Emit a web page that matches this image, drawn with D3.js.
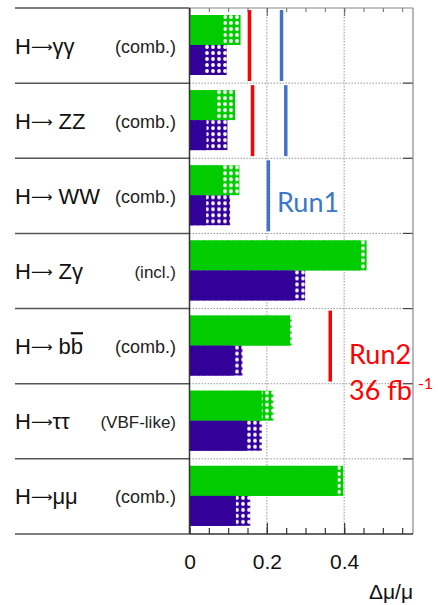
<!DOCTYPE html>
<meta charset="utf-8">
<style>
body { margin: 0; background: #fff; }
svg { display: block; }
</style>
<svg width="438" height="605"></svg>
<script src="https://d3js.org/d3.v7.min.js"></script>
<script>
// channels, top to bottom (decay products after "H→")
var channels = ["gg", "zz", "ww", "zg", "bb", "tt", "mm"]
var products = ["\u03b3\u03b3", " ZZ", " WW", " Z\u03b3", " bb", "\u03c4\u03c4", "\u03bc\u03bc"]
var notes = ["(comb.)", "(comb.)", "(comb.)", "(incl.)", "(comb.)", "(VBF-like)", "(comb.)"]

// green = upper bar, purple = lower bar; solid part and full (dotted) extent
var greenSolid  = [0.088, 0.070, 0.083, 0.441, 0.260, 0.187, 0.383]
var greenTotal  = [0.132, 0.118, 0.129, 0.458, 0.264, 0.217, 0.398]
var purpleSolid = [0.036, 0.044, 0.043, 0.269, 0.113, 0.148, 0.120]
var purpleTotal = [0.096, 0.098, 0.105, 0.299, 0.137, 0.187, 0.157]

// reference lines: Run2 36 fb-1 (red) and Run1 (blue), null = none
var run2 = [0.155, 0.163, null, null, 0.364, null, null]
var run1 = [0.238, 0.249, 0.204, null, null, null, null]

var majorTicks = [0, 0.2, 0.4]
var minorTicks = d3.range(0, 0.58, 0.05)

var FONT = "Liberation Sans, Arial, Helvetica, DejaVu Sans, sans-serif"
var svg = d3.select("svg")
var x = d3.scaleLinear().domain([0, 0.578]).range([189.5, 413])
var y = d3.scaleBand().domain(channels).range([8, 534])
var sub = d3.scaleBand().domain(["green", "purple"]).range([7, 67])

var colours = { green: "#00cc00", purple: "#330099" }

// dotted patterns for the extension part of bars
var defs = svg.append("defs")
Object.keys(colours).forEach(function (k) {
  var p = defs.append("pattern")
    .attr("id", "dots-" + k)
    .attr("patternUnits", "userSpaceOnUse")
    .attr("width", 6).attr("height", 6)
  p.append("rect").attr("width", 6).attr("height", 6).attr("fill", colours[k])
  p.append("circle").attr("cx", 3).attr("cy", 3).attr("r", 1.9).attr("fill", "#fff")
})

var rows = channels.map(function (c, i) {
  return { id: c, prod: products[i], note: notes[i],
    bars: [
      { k: "green", solid: greenSolid[i], total: greenTotal[i] },
      { k: "purple", solid: purpleSolid[i], total: purpleTotal[i] }
    ],
    run2: run2[i], run1: run1[i] }
})

// grid
var grid = svg.append("g")
grid.selectAll("line.v").data([0.2, 0.4]).enter().append("line")
  .attr("x1", d => x(d)).attr("x2", d => x(d))
  .attr("y1", 8).attr("y2", 534)
  .attr("stroke", "#999").attr("stroke-width", 1).attr("stroke-dasharray", "1.5,1.5")
var bounds = channels.slice(1).map(c => y(c))
grid.selectAll("line.h").data(bounds).enter().append("line")
  .attr("x1", x(0)).attr("x2", 413)
  .attr("y1", d => d).attr("y2", d => d)
  .attr("stroke", "#999").attr("stroke-width", 1).attr("stroke-dasharray", "1.5,1.5")

// bars
var rowG = svg.append("g").selectAll("g").data(rows).enter().append("g")
  .attr("transform", d => "translate(0," + y(d.id) + ")")

rowG.selectAll("rect.tot").data(d => d.bars).enter().append("rect")
  .attr("x", x(0)).attr("y", d => sub(d.k))
  .attr("width", d => x(d.total) - x(0)).attr("height", sub.bandwidth())
  .attr("fill", d => "url(#dots-" + d.k + ")")
rowG.selectAll("rect.sol").data(d => d.bars).enter().append("rect")
  .attr("x", x(0)).attr("y", d => sub(d.k))
  .attr("width", d => x(d.solid) - x(0)).attr("height", sub.bandwidth())
  .attr("fill", d => colours[d.k])

rowG.filter(d => d.run2 != null).append("line")
  .attr("x1", d => x(d.run2)).attr("x2", d => x(d.run2))
  .attr("y1", 2).attr("y2", 73)
  .attr("stroke", "#ff0000").attr("stroke-width", 3.5)
rowG.filter(d => d.run1 != null).append("line")
  .attr("x1", d => x(d.run1)).attr("x2", d => x(d.run1))
  .attr("y1", 2).attr("y2", 73)
  .attr("stroke", "#4472c4").attr("stroke-width", 3.5)

// label panel
var labG = svg.append("g")
labG.selectAll("line").data(y.domain().map(c => y(c)).concat([534])).enter().append("line")
  .attr("x1", 15).attr("x2", x(0))
  .attr("y1", d => d).attr("y2", d => d)
  .attr("stroke", "#555").attr("stroke-width", 1.5)

var lab = labG.selectAll("g.lab").data(rows).enter().append("g")
  .attr("transform", d => "translate(0," + (y(d.id) + y.bandwidth() / 2) + ")")
lab.append("text")
  .attr("x", 15).attr("y", 8)
  .attr("font-family", FONT)
  .attr("font-size", 22).attr("fill", "#111")
  .each(function (d) {
    var t = d3.select(this)
    t.append("tspan").text("H")
    t.append("tspan").attr("font-size", 15).attr("dy", -2).text("\u27f6")
    if (d.id === "bb") {
      t.append("tspan").attr("dy", 2).text(" b")
      t.append("tspan").text("b").style("text-decoration", "overline")
    } else {
      t.append("tspan").attr("dy", 2).text(d.prod)
    }
  })
lab.append("text")
  .attr("x", 176).attr("y", 7).attr("text-anchor", "end")
  .attr("font-family", FONT)
  .attr("font-size", d => d.id === "tt" || d.id === "zg" ? 17 : 18)
  .attr("fill", "#222")
  .text(d => d.note)

// axes
var axB = svg.append("g").attr("transform", "translate(0,534)")
axB.call(d3.axisBottom(x).tickValues(minorTicks).tickSizeInner(-6).tickSizeOuter(0).tickFormat(""))
axB.append("g").call(d3.axisBottom(x).tickValues(majorTicks).tickSizeInner(-11).tickSizeOuter(0)
  .tickPadding(20).tickFormat(d => d === 0 ? "0" : d3.format(".1f")(d)))
axB.selectAll(".domain").remove()
axB.selectAll("line").attr("stroke", "#333").attr("stroke-width", 1.2)
axB.selectAll("text").attr("fill", "#111")
  .attr("font-family", FONT).attr("font-size", 21)

var axT = svg.append("g").attr("transform", "translate(0,8)")
axT.call(d3.axisTop(x).tickValues(minorTicks).tickSizeInner(-4).tickSizeOuter(0).tickFormat(""))
axT.append("g").call(d3.axisTop(x).tickValues(majorTicks).tickSizeInner(-8).tickSizeOuter(0).tickFormat(""))
axT.selectAll(".domain").remove()
axT.selectAll("line").attr("stroke", "#666").attr("stroke-width", 1)

// right-side row ticks
svg.append("g").selectAll("line").data(bounds).enter().append("line")
  .attr("x1", 403).attr("x2", 413).attr("y1", d => d).attr("y2", d => d)
  .attr("stroke", "#444").attr("stroke-width", 1.2)

// frame
svg.append("line").attr("x1", x(0)).attr("x2", 413).attr("y1", 8).attr("y2", 8)
  .attr("stroke", "#888").attr("stroke-width", 1.2)
svg.append("line").attr("x1", 413).attr("x2", 413).attr("y1", 8).attr("y2", 534)
  .attr("stroke", "#888").attr("stroke-width", 1.2)
svg.append("line").attr("x1", x(0)).attr("x2", 413).attr("y1", 534).attr("y2", 534)
  .attr("stroke", "#333").attr("stroke-width", 1.5)
svg.append("line").attr("x1", x(0)).attr("x2", x(0)).attr("y1", 8).attr("y2", 534)
  .attr("stroke", "#333").attr("stroke-width", 1.5)

// axis title
svg.append("text").attr("x", 413).attr("y", 599).attr("text-anchor", "end")
  .attr("font-family", FONT).attr("font-size", 21)
  .attr("fill", "#111").text("\u0394\u03bc/\u03bc")

// annotations
svg.append("text").attr("x", 277).attr("y", 212)
  .attr("font-family", "Lato, Open Sans, sans-serif").attr("font-size", 27)
  .attr("fill", "#3a78c8").text("Run1")
var r2 = svg.append("g").attr("fill", "#ff0000")
  .attr("font-family", "Lato, Open Sans, sans-serif")
r2.append("text").attr("x", 349).attr("y", 364).attr("font-size", 27).text("Run2")
var fb = r2.append("text").attr("x", 349).attr("y", 400).attr("font-size", 27)
fb.append("tspan").text("36 fb")
fb.append("tspan").attr("dx", 6).attr("dy", -11).attr("font-size", 16).text("-1")
</script>
